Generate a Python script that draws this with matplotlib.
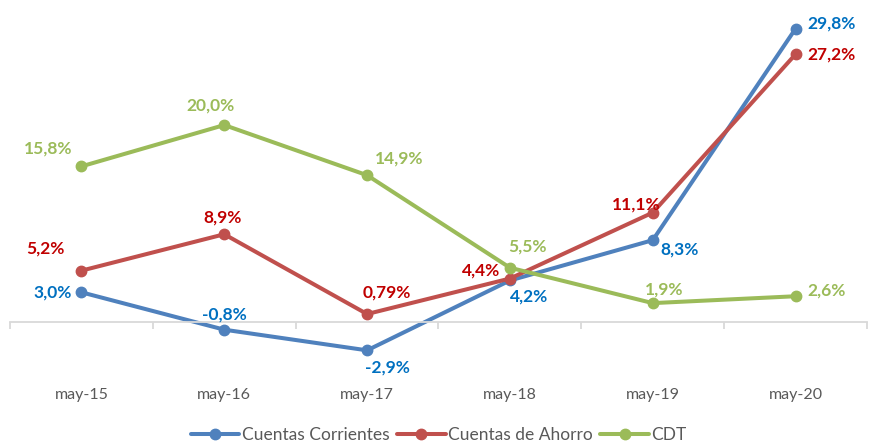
import matplotlib.pyplot as plt

# data
periods = ['may-15', 'may-16', 'may-17', 'may-18', 'may-19', 'may-20']
corrientes = [3.0, -0.8, -2.9, 4.2, 8.3, 29.8]
ahorro = [5.2, 8.9, 0.79, 4.4, 11.1, 27.2]
cdt = [15.8, 20.0, 14.9, 5.5, 1.9, 2.6]
lbl_corrientes = ['3,0%', '-0,8%', '-2,9%', '4,2%', '8,3%', '29,8%']
lbl_ahorro = ['5,2%', '8,9%', '0,79%', '4,4%', '11,1%', '27,2%']
lbl_cdt = ['15,8%', '20,0%', '14,9%', '5,5%', '1,9%', '2,6%']

plt.rcParams['font.family'] = ['Lato', 'DejaVu Sans']

fig = plt.figure(figsize=(8.77, 4.43), dpi=100)
ax = fig.add_axes([10/877, 72/443, 857/877, 364/443])

x = list(range(len(periods)))
series = [
    ('Cuentas Corrientes', corrientes, lbl_corrientes, '#4F81BD', '#0070C0',
     [(-10, 0, 'right', 'center'), (0, 15, 'center', 'center'), (20, -17, 'center', 'center'),
      (19, -16, 'center', 'center'), (8, -9, 'left', 'center'), (12, 5, 'left', 'center')]),
    ('Cuentas de Ahorro', ahorro, lbl_ahorro, '#C0504D', '#C00000',
     [(-36, 22, 'center', 'center'), (-2, 17, 'center', 'center'), (20, 22, 'center', 'center'),
      (-29, 8, 'center', 'center'), (-17, 8, 'center', 'center'), (12, 0, 'left', 'center')]),
    ('CDT', cdt, lbl_cdt, '#9BBB59', '#9BBB59',
     [(-33, 18, 'center', 'center'), (-14, 20, 'center', 'center'), (32, 17, 'center', 'center'),
      (18, 21, 'center', 'center'), (11, 14, 'center', 'center'), (12, 6, 'left', 'center')]),
]

for name, vals, labels, col, tcol, offs in series:
    ax.plot(x, vals, color=col, lw=2.9, marker='o', ms=7.5, label=name,
            solid_capstyle='round')
    for xi, v, t, (dx, dy, ha, va) in zip(x, vals, labels, offs):
        ax.annotate(t, (xi, v), xytext=(dx, dy), textcoords='offset pixels',
                    ha=ha, va=va, color=tcol, fontsize=12.5, fontweight='bold')

ax.set_xlim(-0.5, 5.5)
ax.set_ylim(-5, 32)

for s in ['top', 'right', 'left']:
    ax.spines[s].set_visible(False)
ax.spines['bottom'].set_position(('data', 0))
ax.spines['bottom'].set_color('#D9D9D9')
ax.spines['bottom'].set_linewidth(1.3)
ax.set_yticks([])

ax.set_xticks(x)
ax.set_xticklabels(periods, color='#595959', fontsize=11.5)
ax.tick_params(axis='x', which='major', length=0, pad=48)
ax.set_xticks([i - 0.5 for i in range(len(periods) + 1)], minor=True)
ax.tick_params(axis='x', which='minor', length=5, color='#D9D9D9', width=1.3)

fig.legend(loc='lower center', bbox_to_anchor=(0.5, -0.035), ncol=3, frameon=False,
           fontsize=12.5, labelcolor='#595959', handlelength=2.8, handletextpad=0.12,
           columnspacing=0.45)

fig.savefig('out.png', dpi=100)
